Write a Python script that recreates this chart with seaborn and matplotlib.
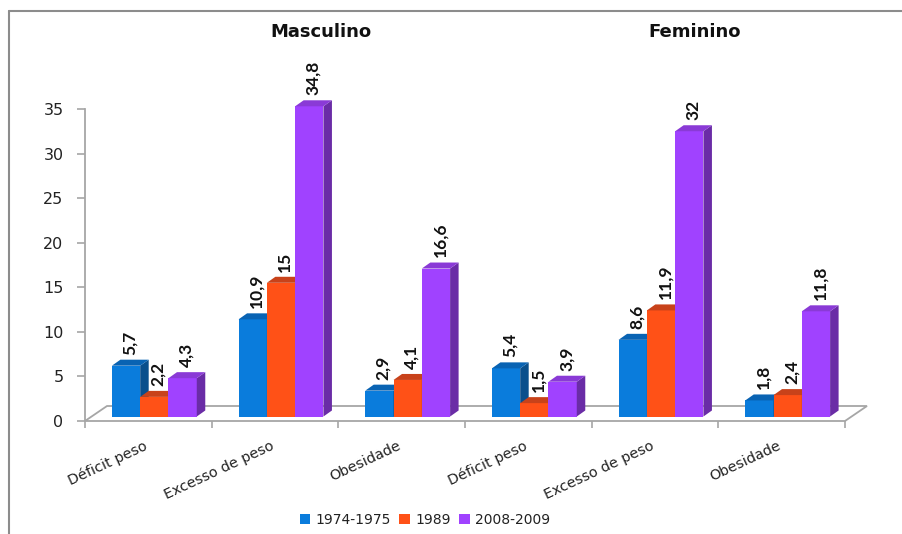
import numpy as np
import pandas as pd
import seaborn as sns
import matplotlib.pyplot as plt
from matplotlib.patches import Polygon
from matplotlib.lines import Line2D
from matplotlib.transforms import ScaledTranslation, IdentityTransform

# ---- data -------------------------------------------------------------
sexes = ["Masculino", "Feminino"]
indicators = ["Déficit peso", "Excesso de peso", "Obesidade"]
periods = ["1974-1975", "1989", "2008-2009"]
values_1974_1975 = [5.7, 10.9, 2.9, 5.4, 8.6, 1.8]
values_1989 = [2.2, 15, 4.1, 1.5, 11.9, 2.4]
values_2008_2009 = [4.3, 34.8, 16.6, 3.9, 32, 11.8]
y_ticks = [0, 5, 10, 15, 20, 25, 30, 35]

front_colors = ["#0A7CDC", "#FF5117", "#A042FF"]
side_colors = ["#0A4F8C", "#B73A12", "#6A2CA6"]
top_colors = ["#0963B3", "#C8421A", "#8A3AD6"]

slots = [f"{s} | {i}" for s in sexes for i in indicators]
df = pd.DataFrame({
    "slot": slots * 3,
    "period": np.repeat(periods, len(slots)),
    "value": values_1974_1975 + values_1989 + values_2008_2009,
})

# ---- figure -----------------------------------------------------------
sns.set_theme(style="white")
plt.rcParams["font.family"] = ["DejaVu Sans"]

DPI = 100
fig = plt.figure(figsize=(9.03, 5.34), dpi=DPI)
W, H = 903, 534
ax = fig.add_axes([85 / W, 113 / H, 760 / W, 312 / H])

sns.barplot(data=df, x="slot", y="value", hue="period", order=slots,
            hue_order=periods, palette=front_colors, width=0.67,
            saturation=1, linewidth=0, errorbar=None, ax=ax)

ax.set_xlim(-0.5, 5.5)
ax.set_ylim(0, 35)
ax.set_xlabel("")
ax.set_ylabel("")

# axes styling
grey = "#A6A6A6"
for side in ["top", "right", "bottom"]:
    ax.spines[side].set_visible(False)
ax.spines["left"].set_color(grey)
ax.spines["left"].set_linewidth(1.3)
ax.set_yticks(y_ticks)
ax.tick_params(axis="y", left=True, length=6, width=1.2, color=grey,
               pad=9.5, labelsize=11.5, labelcolor="#222222")

ax.set_xticks(range(len(slots)))
ax.set_xticks(np.arange(-0.5, len(slots), 1.0), minor=True)
ax.tick_params(axis="x", which="major", bottom=True, length=0, pad=12.6)
ax.tick_params(axis="x", which="minor", bottom=True, length=5, width=1.2,
               color=grey)
ax.set_xticklabels(indicators * len(sexes), rotation=25, ha="right",
                   rotation_mode="anchor", fontsize=10.4, color="#222222")
shift = ScaledTranslation(-5 / DPI, 0, fig.dpi_scale_trans)
for lbl in ax.get_xticklabels():
    lbl.set_transform(lbl.get_transform() + shift)

# 3-D floor under the bars
fig.canvas.draw()
to_px = ax.transData.transform
fx0, fy0 = to_px((-0.5, 0))
fx1, _ = to_px((5.5, 0))
floor_dx, floor_dy = 22, 15
floor = Polygon([(fx0, fy0), (fx1, fy0), (fx1 + floor_dx, fy0 + floor_dy),
                 (fx0 + floor_dx, fy0 + floor_dy)], closed=True,
                facecolor="white", edgecolor=grey, linewidth=1.3,
                transform=IdentityTransform(), clip_on=False, zorder=1)
ax.add_patch(floor)

# 3-D bars: front face shifted into the floor, plus side and top faces
off_x, off_y = 6, 4.5
depth_x, depth_y = 8.5, 6
bar_shift = ScaledTranslation(off_x / DPI, off_y / DPI, fig.dpi_scale_trans)
for k, container in enumerate(ax.containers):
    z = 3 + k * 0.1
    for bar in container:
        bar.set_transform(ax.transData + bar_shift)
        bar.set_clip_on(False)
        bar.set_zorder(z)
        x0, y0 = to_px((bar.get_x(), 0))
        x1, y1 = to_px((bar.get_x() + bar.get_width(), bar.get_height()))
        x0 += off_x; x1 += off_x; y0 += off_y; y1 += off_y
        side = Polygon([(x1, y0), (x1 + depth_x, y0 + depth_y),
                        (x1 + depth_x, y1 + depth_y), (x1, y1)],
                       closed=True, facecolor=side_colors[k], linewidth=0,
                       transform=IdentityTransform(), clip_on=False,
                       zorder=z + 0.01)
        top = Polygon([(x0, y1), (x1, y1), (x1 + depth_x, y1 + depth_y),
                       (x0 + depth_x, y1 + depth_y)], closed=True,
                      facecolor=top_colors[k], linewidth=0,
                      transform=IdentityTransform(), clip_on=False,
                      zorder=z + 0.02)
        ax.add_patch(side)
        ax.add_patch(top)
        value = bar.get_height()
        ax.annotate(f"{value:g}".replace(".", ","),
                    xy=(bar.get_x() + bar.get_width() / 2, value),
                    xytext=(7.2, 11.2), textcoords="offset points",
                    rotation=90, ha="center", va="bottom",
                    fontsize=12.5, fontweight="bold", family="Lato",
                    color="#111111", annotation_clip=False, zorder=5)

# group headings
for name, xc in zip(sexes, [321, 695]):
    fig.text(xc / W, 1 - 32 / H, name, ha="center", va="center",
             fontsize=13, fontweight="bold", color="#111111")

# legend below the categories
sns.move_legend(ax, "center", bbox_to_anchor=((425 - 85) / 760, (14 - 113) / 312),
                ncol=3, frameon=False, title=None, fontsize=10,
                handlelength=0.75, handleheight=0.75, handletextpad=0.4,
                columnspacing=0.6)
for t in ax.get_legend().get_texts():
    t.set_color("#222222")

# frame around the chart area
frame_kw = dict(color="#8C8C8C", linewidth=1.5, transform=fig.transFigure)
fig.add_artist(Line2D([9 / W, 9 / W], [0, 1 - 11 / H], **frame_kw))
fig.add_artist(Line2D([9 / W, 1], [1 - 11 / H, 1 - 11 / H], **frame_kw))

fig.savefig("out.png", dpi=DPI)
